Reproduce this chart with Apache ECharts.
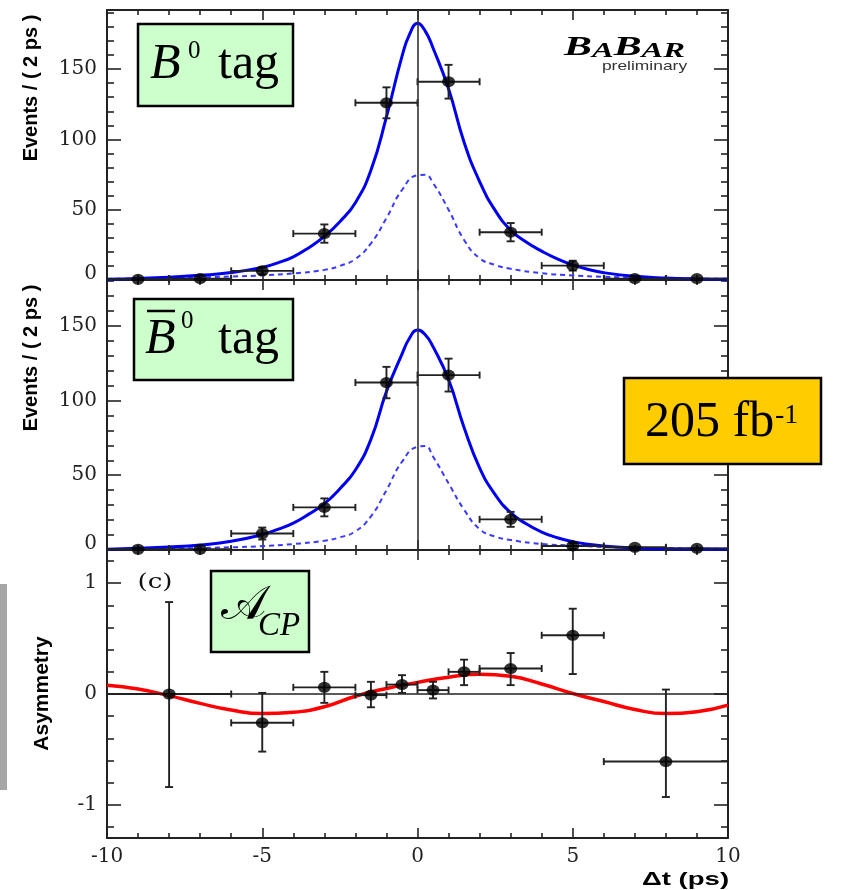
<!DOCTYPE html>
<html><head><meta charset="utf-8">
<script src="https://cdn.jsdelivr.net/npm/echarts@6/dist/echarts.min.js"></script>
<style>html,body{margin:0;padding:0;background:#fff}#c{width:853px;height:890px}</style>
</head><body><div id="c"></div>
<script>
// ---------- data ----------
const binCenters = [-9, -7, -5, -3, -1, 1, 3, 5, 7, 9];
const b0Counts   = [0.5, 1, 6.5, 33, 126, 141, 34, 10.2, 1, 1];
const b0Err      = [0.8, 1, 2.5, 6.5, 11, 12, 6.5, 3.5, 1, 1];
const b0barCounts= [0.5, 0.5, 11, 28.5, 112, 117, 20.5, 2.7, 1.8, 1.1];
const b0barErr   = [0.8, 0.8, 4, 6, 10.5, 11, 5, 2, 1.5, 1];

const fitT      = [-10,-9,-8,-7,-6,-5,-4.5,-4,-3.5,-3,-2.5,-2,-1.5,-1,-0.5,-0.25,0,0.25,0.5,1,1.5,2,2.5,3,3.5,4,4.5,5,5.5,6,7,8,9,10];
const b0Fit     = [0.5,1.1,2,3.3,5.3,9,12.2,16.5,23,31,41.5,55,78,116,159,175,182.5,177,165,136,98,70,49.5,35.5,27,20.5,15,10.7,7.5,5.2,2.6,1.4,0.8,0.5];
const b0barFit  = [0.5,1.1,2,3.4,5.8,10.3,13.8,18,24,31,41,53.5,74,106,131,142,147.2,144,136,114,82,55,37,25,17.5,12,8.2,5.6,3.8,2.6,1.3,0.8,0.6,0.5];

const bkgT      = [-10,-8,-6,-5,-4,-3,-2.5,-2,-1.5,-1,-0.5,0,0.25,0.5,1,1.5,2,2.5,3,4,5,6,8,10];
const b0Bkg     = [0.8,1.3,2.5,3.3,4.7,7.2,10,15,26,44,64,74.5,74.8,69,50,28.5,15.5,10.7,8,4.8,3.2,2.3,1.3,0.8];
const b0barBkg  = [0.6,1,1.8,2.6,4,6.2,8.5,12.5,22.5,40,59,69,69.5,62.5,44.6,27,14,9,6.7,4,3,2,1.2,0.8];

const asymX   = [-8, -5, -3, -1.5, -0.5, 0.5, 1.5, 3, 5, 8];
const asymXLo = [-10, -6, -4, -2, -1, 0, 1, 2, 4, 6];
const asymXHi = [-6, -4, -2, -1, 0, 1, 2, 4, 6, 10];
const asymY   = [0, -0.26, 0.06, -0.01, 0.085, 0.035, 0.2, 0.23, 0.53, -0.61];
const asymYLo = [-0.84, -0.52, -0.08, -0.12, 0.01, -0.04, 0.08, 0.08, 0.18, -0.93];
const asymYHi = [0.83, 0.01, 0.20, 0.11, 0.17, 0.11, 0.31, 0.37, 0.77, 0.04];

const asymT   = [-10,-9,-8,-7,-6,-5,-4,-3,-2,-1,0,1,2,3,4,5,6,7,8,9,10];
const asymFit = [0.08,0.045,-0.015,-0.085,-0.145,-0.177,-0.165,-0.115,-0.02,0.05,0.105,0.152,0.178,0.16,0.09,0.005,-0.068,-0.14,-0.177,-0.16,-0.10];

// ticks
const xTickLabels = [-10, -5, 0, 5, 10];
const evMajor = [0, 50, 100, 150];
const evMinorTop = [10,20,30,40,60,70,80,90,110,120,130,140,160,170,180,190];
const evMinorMid = [10,20,30,40,60,70,80,90,110,120,130,140,160,170,180];
const asMajor = [-1, 0, 1];
const asMinor = [-1.2,-0.8,-0.6,-0.4,-0.2,0.2,0.4,0.6,0.8,1.2];

// ---------- chart ----------
const FRAME = '#222';
const lineSt = {color: FRAME, width: 2};
const tickSt = {color: FRAME, width: 1.6};
const labelFont = {fontFamily: 'DejaVu Serif', fontSize: 20, color: '#222'};

function xAxes(g, showLabels) {
  const base = {gridIndex: g, type: 'value', min: -10, max: 10, interval: 5,
    splitLine: {show: false}, minorSplitLine: {show: false},
    axisLine: {show: true, onZero: false, lineStyle: lineSt},
    axisTick: {show: true, inside: true, length: 10, lineStyle: tickSt},
    minorTick: {show: true, splitNumber: 5, length: 5, lineStyle: tickSt}};
  return [
    Object.assign({}, base, {position: 'bottom',
      axisLabel: Object.assign({show: showLabels, margin: 9, customValues: xTickLabels}, labelFont)}),
    Object.assign({}, base, {position: 'top', axisLabel: {show: false}})
  ];
}
function yAxes(g, min, max, majors, minors, shiftZero) {
  const base = {gridIndex: g, type: 'value', min: min, max: max, splitLine: {show: false}};
  const fmt = function (v) { return (shiftZero && v === 0) ? '{z|0}' : String(v); };
  return [
    Object.assign({}, base, {position: 'left',
      axisLine: {show: true, onZero: false, lineStyle: lineSt},
      axisTick: {show: true, inside: true, length: 14, customValues: majors, lineStyle: tickSt},
      axisLabel: Object.assign({show: true, margin: 10, customValues: majors, formatter: fmt,
        rich: {z: {fontFamily: 'DejaVu Serif', fontSize: 20, color: '#222', padding: [0, 0, 12, 0]}}}, labelFont)}),
    Object.assign({}, base, {position: 'left', axisLine: {show: false, onZero: false},
      axisTick: {show: true, inside: true, length: 7, customValues: minors, lineStyle: tickSt},
      axisLabel: {show: false}}),
    Object.assign({}, base, {position: 'right',
      axisLine: {show: true, onZero: false, lineStyle: lineSt},
      axisTick: {show: true, inside: true, length: 14, customValues: majors, lineStyle: tickSt},
      axisLabel: {show: false}}),
    Object.assign({}, base, {position: 'right', axisLine: {show: false, onZero: false},
      axisTick: {show: true, inside: true, length: 7, customValues: minors, lineStyle: tickSt},
      axisLabel: {show: false}})
  ];
}

function errRender(params, api) {
  const x = api.value(0), y = api.value(1);
  const c = api.coord([x, y]);
  const pl = api.coord([api.value(2), y]), ph = api.coord([api.value(3), y]);
  const pyl = api.coord([x, api.value(4)]), pyh = api.coord([x, api.value(5)]);
  const st = {stroke: '#222', lineWidth: 1.9};
  const hc = 3.5, vc = 4;
  const ch = [
    {type: 'line', shape: {x1: pl[0], y1: c[1], x2: ph[0], y2: c[1]}, style: st},
    {type: 'line', shape: {x1: pl[0], y1: c[1] - hc, x2: pl[0], y2: c[1] + hc}, style: st},
    {type: 'line', shape: {x1: ph[0], y1: c[1] - hc, x2: ph[0], y2: c[1] + hc}, style: st},
    {type: 'line', shape: {x1: c[0], y1: pyl[1], x2: c[0], y2: pyh[1]}, style: st}
  ];
  if (Math.abs(pyl[1] - pyh[1]) > 5) {
    ch.push({type: 'line', shape: {x1: c[0] - vc, y1: pyl[1], x2: c[0] + vc, y2: pyl[1]}, style: st});
    ch.push({type: 'line', shape: {x1: c[0] - vc, y1: pyh[1], x2: c[0] + vc, y2: pyh[1]}, style: st});
  }
  return {type: 'group', children: ch};
}

function zip(a, b) { return a.map(function (v, i) { return [v, b[i]]; }); }
function histErr(vals, errs) {
  return binCenters.map(function (x, i) {
    return [x, vals[i], x - 1, x + 1, Math.max(0, vals[i] - errs[i]), vals[i] + errs[i]];
  });
}

function panelSeries(g, fit, bkg, vals, errs) {
  const xi = 2 * g, yi = 4 * g;
  return [
    {type: 'line', xAxisIndex: xi, yAxisIndex: yi, data: zip(bkgT, bkg), smooth: 0.5, showSymbol: false,
      lineStyle: {color: '#3a3aff', width: 2, type: [5, 4]}, z: 2,
      markLine: {silent: true, symbol: 'none', label: {show: false}, animation: false,
        lineStyle: {color: '#333', width: 1.6, type: 'solid'}, data: [{xAxis: 0}]}},
    {type: 'line', xAxisIndex: xi, yAxisIndex: yi, data: zip(fitT, fit), smooth: 0.5, showSymbol: false,
      lineStyle: {color: '#0000ee', width: 3}, z: 3},
    {type: 'custom', xAxisIndex: xi, yAxisIndex: yi, renderItem: errRender, data: histErr(vals, errs), z: 4},
    {type: 'scatter', xAxisIndex: xi, yAxisIndex: yi, data: zip(binCenters, vals), symbol: 'circle',
      symbolSize: [13, 11], itemStyle: {color: '#000'}, z: 5, clip: false}
  ];
}

const serif = 'Liberation Serif';
function box(x, y, w, h, fill) {
  return {type: 'rect', z: 99, shape: {x: x, y: y, width: w, height: h},
    style: {fill: fill, stroke: '#000', lineWidth: 2.5}};
}

const option = {
  animation: false,
  backgroundColor: '#fff',
  grid: [
    {left: 107, top: 10, width: 621, height: 270},
    {left: 107, top: 280, width: 621, height: 270},
    {left: 107, top: 550, width: 621, height: 288}
  ],
  xAxis: [].concat(xAxes(0, false), xAxes(1, false), xAxes(2, true)),
  yAxis: [].concat(
    yAxes(0, 0, 192, evMajor, evMinorTop, true),
    yAxes(1, 0, 180.6, evMajor, evMinorMid, true),
    yAxes(2, -1.3, 1.3, asMajor, asMinor, false)),
  series: [].concat(
    panelSeries(0, b0Fit, b0Bkg, b0Counts, b0Err),
    panelSeries(1, b0barFit, b0barBkg, b0barCounts, b0barErr),
    [
      {type: 'line', xAxisIndex: 4, yAxisIndex: 8, data: zip(asymT, asymFit), smooth: 0.5, showSymbol: false,
        lineStyle: {color: '#ff0000', width: 3.5}, z: 3,
        markLine: {silent: true, symbol: 'none', label: {show: false}, animation: false,
          lineStyle: {color: '#222', width: 1.6, type: 'solid'}, data: [{yAxis: 0}]}},
      {type: 'custom', xAxisIndex: 4, yAxisIndex: 8, renderItem: errRender,
        data: asymX.map(function (x, i) { return [x, asymY[i], asymXLo[i], asymXHi[i], asymYLo[i], asymYHi[i]]; }), z: 4},
      {type: 'scatter', xAxisIndex: 4, yAxisIndex: 8, data: zip(asymX, asymY), symbol: 'circle',
        symbolSize: [13, 11], itemStyle: {color: '#000'}, z: 5, clip: false}
    ]),
  graphic: {elements: [
    {type: 'rect', shape: {x: 0, y: 584, width: 7, height: 206}, style: {fill: '#a6a6a6'}},
    // axis titles
    {type: 'text', x: 31.5, y: 88, rotation: Math.PI / 2, style: {text: 'Events / ( 2 ps )', fontFamily: 'Liberation Sans', fontWeight: 'bold', fontSize: 20, fill: '#000', align: 'center', verticalAlign: 'middle'}},
    {type: 'text', x: 31, y: 358, rotation: Math.PI / 2, style: {text: 'Events / ( 2 ps )', fontFamily: 'Liberation Sans', fontWeight: 'bold', fontSize: 20, fill: '#000', align: 'center', verticalAlign: 'middle'}},
    {type: 'text', x: 42.5, y: 693.5, rotation: Math.PI / 2, style: {text: 'Asymmetry', fontFamily: 'Liberation Sans', fontWeight: 'bold', fontSize: 21, fill: '#000', align: 'center', verticalAlign: 'middle'}},
    {type: 'text', x: 685.5, y: 880, scaleX: 1.45, style: {text: 'Δt (ps)', fontFamily: 'Liberation Sans', fontWeight: 'bold', fontSize: 19, fill: '#000', align: 'center', verticalAlign: 'middle'}},
    {type: 'text', x: 155, y: 583, scaleX: 1.25, style: {text: '(c)', fontFamily: 'DejaVu Serif', fontSize: 21, fill: '#111', align: 'center', verticalAlign: 'middle'}},
    // BaBar logo
    {type: 'text', x: 624.5, y: 48, scaleX: 1.55, style: {text: '{b|B}{s|A}{b|B}{s|AR}', align: 'center', verticalAlign: 'middle',
      rich: {b: {fontFamily: serif, fontWeight: 'bold', fontStyle: 'italic', fontSize: 27, fill: '#000', verticalAlign: 'bottom', lineHeight: 28},
             s: {fontFamily: serif, fontWeight: 'bold', fontStyle: 'italic', fontSize: 21, fill: '#000', verticalAlign: 'bottom', lineHeight: 28}}}},
    {type: 'text', x: 644.5, y: 66.7, scaleX: 1.34, style: {text: 'preliminary', fontFamily: 'Liberation Sans', fontSize: 13, fill: '#333', align: 'center', verticalAlign: 'middle'}},
    // B0 tag
    box(138, 24, 155, 82, '#ccffcc'),
    {type: 'text', x: 150, y: 65, z: 100, style: {text: 'B', fontFamily: serif, fontStyle: 'italic', fontSize: 50, fill: '#000', align: 'left', verticalAlign: 'middle'}},
    {type: 'text', x: 188, y: 51, z: 100, style: {text: '0', fontFamily: serif, fontSize: 25, fill: '#000', align: 'left', verticalAlign: 'middle'}},
    {type: 'text', x: 218, y: 65, z: 100, style: {text: 'tag', fontFamily: serif, fontSize: 50, fill: '#000', align: 'left', verticalAlign: 'middle'}},
    // B0bar tag
    box(134, 299, 159, 81, '#ccffcc'),
    {type: 'text', x: 145, y: 340, z: 100, style: {text: 'B', fontFamily: serif, fontStyle: 'italic', fontSize: 50, fill: '#000', align: 'left', verticalAlign: 'middle'}},
    {type: 'line', z: 100, shape: {x1: 147, y1: 311, x2: 175, y2: 311}, style: {stroke: '#000', lineWidth: 2.5}},
    {type: 'text', x: 181, y: 321.5, z: 100, style: {text: '0', fontFamily: serif, fontSize: 25, fill: '#000', align: 'left', verticalAlign: 'middle'}},
    {type: 'text', x: 218, y: 340, z: 100, style: {text: 'tag', fontFamily: serif, fontSize: 50, fill: '#000', align: 'left', verticalAlign: 'middle'}},
    // A_CP
    box(211, 571, 98, 81, '#ccffcc'),
    {type: 'text', x: 243, y: 607, z: 100, style: {text: '𝒜', fontFamily: 'DejaVu Serif, DejaVu Sans, serif', fontSize: 48, fill: '#000', align: 'center', verticalAlign: 'middle'}},
    {type: 'text', x: 258, y: 626.5, z: 100, style: {text: 'CP', fontFamily: serif, fontStyle: 'italic', fontSize: 33, fill: '#000', align: 'left', verticalAlign: 'middle'}},
    // luminosity
    box(624, 378, 197, 86, '#ffcc00'),
    {type: 'text', x: 645, y: 423.3, z: 100, style: {text: '205 fb', fontFamily: serif, fontSize: 50, fill: '#000', align: 'left', verticalAlign: 'middle'}},
    {type: 'text', x: 775, y: 416, z: 100, style: {text: '-1', fontFamily: serif, fontSize: 28, fill: '#000', align: 'left', verticalAlign: 'middle'}}
  ]}
};

const chart = echarts.init(document.getElementById('c'), null, {renderer: 'canvas'});
chart.setOption(option);
</script>
</body></html>
